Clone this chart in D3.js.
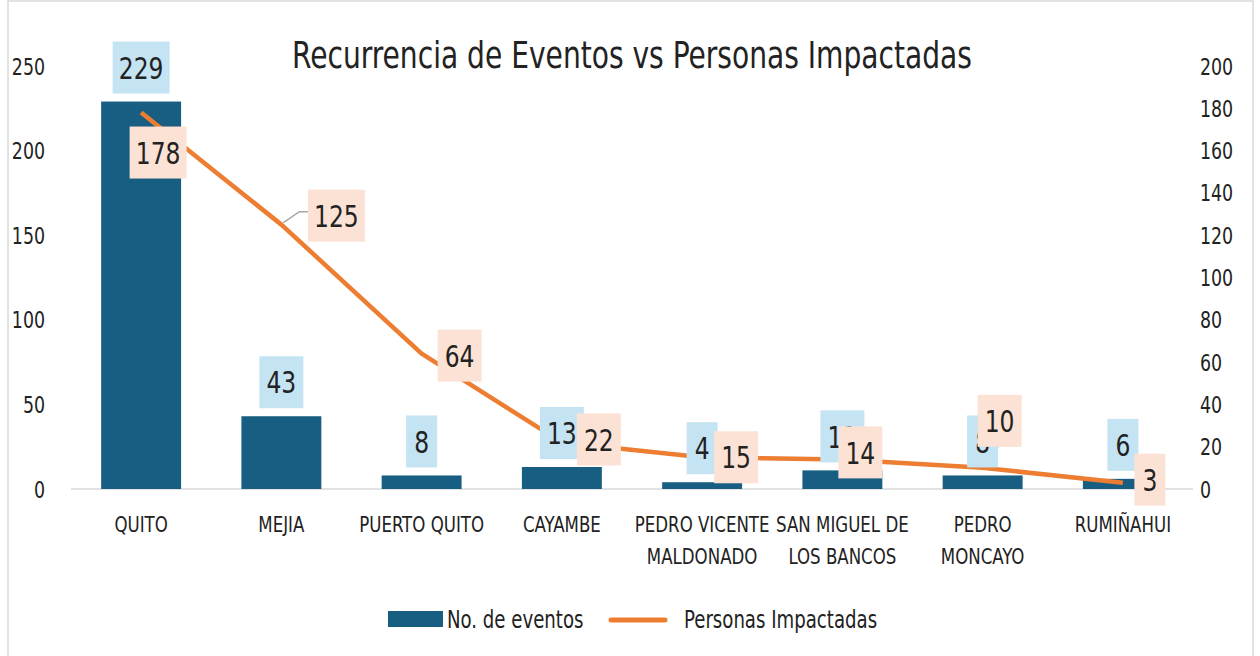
<!DOCTYPE html>
<html>
<head>
<meta charset="utf-8">
<script src="https://cdn.jsdelivr.net/npm/d3@7"></script>
<style>
  body { margin: 0; background: #fff; }
  text { font-family: "DejaVu Sans Condensed", "Liberation Sans Narrow", sans-serif; fill: #222; }
</style>
</head>
<body>
<svg id="chart" width="1260" height="656"></svg>
<script>
const cantones = ['QUITO', 'MEJIA', 'PUERTO QUITO', 'CAYAMBE', 'PEDRO VICENTE MALDONADO',
  'SAN MIGUEL DE LOS BANCOS', 'PEDRO MONCAYO', 'RUMIÑAHUI']
const cantonLines = [['QUITO'], ['MEJIA'], ['PUERTO QUITO'], ['CAYAMBE'], ['PEDRO VICENTE', 'MALDONADO'],
  ['SAN MIGUEL DE', 'LOS BANCOS'], ['PEDRO', 'MONCAYO'], ['RUMIÑAHUI']]
const eventos = [229, 43, 8, 13, 4, 11, 8, 6]
const personas = [178, 125, 64, 22, 15, 14, 10, 3]
const leftTicks = [0, 50, 100, 150, 200, 250]
const rightTicks = [0, 20, 40, 60, 80, 100, 120, 140, 160, 180, 200]

// manual label placement (like the original sheet), offsets from the point
const lineLabelNudge = [[17, 40], [55, -9], [38, 2], [37, -3], [34, 0], [18, -7], [17, -47], [27, -3]]

const colors = { bar: '#175e82', line: '#ed7d31', barLab: '#c4e4f4', lineLab: '#fce2d4', axis: '#d9d9d9' }

const svg = d3.select('#chart')
const m = { left: 71, right: 67, top: 66, bottom: 167 }
const W = 1260, H = 656

svg.append('rect').attr('x', 8).attr('y', 1).attr('width', 1245).attr('height', 660)
  .attr('fill', 'none').attr('stroke', colors.axis).attr('stroke-width', 1.5)

const x = d3.scaleBand().domain(cantones).range([m.left, W - m.right]).paddingInner(0.43).paddingOuter(0.215)
const y = d3.scaleLinear().domain([0, 250]).range([H - m.bottom, m.top])
const y2 = d3.scaleLinear().domain([0, 200]).range([H - m.bottom, m.top])
const cx = (d) => x(d) + x.bandwidth() / 2

// title
svg.append('text').attr('class', 'title').attr('x', 632).attr('y', 68).attr('text-anchor', 'middle')
  .attr('font-size', 38).attr('textLength', 680).attr('lengthAdjust', 'spacingAndGlyphs')
  .text('Recurrencia de Eventos vs Personas Impactadas')

// axes
const yAxisL = d3.axisLeft(y).tickValues(leftTicks).tickSize(0).tickPadding(0)
svg.append('g').attr('transform', 'translate(45,0)').call(yAxisL)
  .call(g => g.select('.domain').remove())
  .selectAll('text').attr('font-size', 23).attr('dy', '0.35em')

const yAxisR = d3.axisRight(y2).tickValues(rightTicks).tickSize(0).tickPadding(0)
svg.append('g').attr('transform', 'translate(1200,0)').call(yAxisR)
  .call(g => g.select('.domain').remove())
  .selectAll('text').attr('font-size', 23).attr('dy', '0.35em')

svg.append('line').attr('x1', m.left).attr('x2', W - m.right)
  .attr('y1', y(0)).attr('y2', y(0)).attr('stroke', colors.axis).attr('stroke-width', 1.5)

const xl = svg.append('g').selectAll('text').data(cantones).enter().append('text')
  .attr('x', (d) => cx(d)).attr('y', 532).attr('text-anchor', 'middle').attr('font-size', 22)
xl.each(function(d, i) {
  cantonLines[i].forEach((s, j) => {
    d3.select(this).append('tspan').attr('x', cx(d)).attr('dy', j === 0 ? 0 : 32).text(s)
  })
})

// bars
svg.append('g').selectAll('rect').data(cantones).enter().append('rect')
  .attr('x', (d) => x(d)).attr('width', x.bandwidth())
  .attr('y', (d, i) => y(eventos[i])).attr('height', (d, i) => y(0) - y(eventos[i]))
  .attr('fill', colors.bar)

// line
const line = d3.line().x((d, i) => cx(cantones[i])).y((d) => y2(d))
svg.append('path').datum(personas).attr('d', line)
  .attr('fill', 'none').attr('stroke', colors.line).attr('stroke-width', 4.5).attr('stroke-linejoin', 'round')

// leader lines for the two labels pulled away from their points
const leaders = [1, 6]
svg.append('g').selectAll('polyline').data(leaders).enter().append('polyline')
  .attr('points', (i) => {
    const px = cx(cantones[i])
    const lx = px + lineLabelNudge[i][0], ly = y2(personas[i]) + lineLabelNudge[i][1]
    if (i === 1) {
      const py = y2(personas[i])
      return `${px + 2},${py - 2} ${px + 18},${ly - 4} ${lx - 27},${ly - 4}`
    }
    return `${px},${y(eventos[i]) - 9} ${lx},${ly + 24}`
  })
  .attr('fill', 'none').attr('stroke', '#a6a6a6').attr('stroke-width', 1.5)

function labelBox(g, cxv, cyv, txt, fill) {
  const w = txt.length * 13 + 18
  g.append('rect').attr('x', cxv - w / 2).attr('y', cyv - 26).attr('width', w).attr('height', 52).attr('fill', fill)
  g.append('text').attr('x', cxv).attr('y', cyv).attr('dy', '0.36em').attr('text-anchor', 'middle')
    .attr('font-size', 31).text(txt)
}

const barLabs = svg.append('g')
eventos.forEach((v, i) => {
  labelBox(barLabs, cx(cantones[i]), y(v) - 34, String(v), colors.barLab)
})
const lineLabs = svg.append('g')
personas.forEach((v, i) => {
  labelBox(lineLabs, cx(cantones[i]) + lineLabelNudge[i][0], y2(v) + lineLabelNudge[i][1], String(v), colors.lineLab)
})

// legend
const lg = svg.append('g')
lg.append('rect').attr('x', 388).attr('y', 611).attr('width', 55).attr('height', 16).attr('fill', colors.bar)
lg.append('text').attr('x', 447).attr('y', 620).attr('dy', '0.35em').attr('font-size', 24).text('No. de eventos')
lg.append('line').attr('x1', 611).attr('x2', 665).attr('y1', 620).attr('y2', 620)
  .attr('stroke', colors.line).attr('stroke-width', 5).attr('stroke-linecap', 'round')
lg.append('text').attr('x', 684).attr('y', 620).attr('dy', '0.35em').attr('font-size', 24).text('Personas Impactadas')

// squeeze the glyphs toward the narrow face of the original
function condense(k) {
  svg.selectAll('text:not(.title)').each(function() {
    const spans = d3.select(this).selectAll('tspan')
    const parts = spans.empty() ? [this] : spans.nodes()
    parts.forEach((n) => {
      const len = n.getComputedTextLength()
      d3.select(n).attr('textLength', len * k).attr('lengthAdjust', 'spacingAndGlyphs')
    })
  })
}
condense(0.84)
</script>
</body>
</html>
